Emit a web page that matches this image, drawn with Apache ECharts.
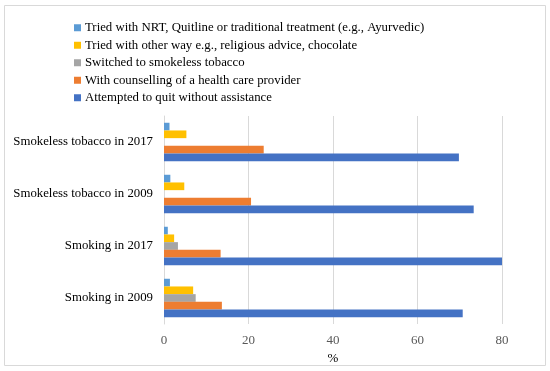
<!DOCTYPE html>
<html><head><meta charset="utf-8">
<script src="https://cdn.jsdelivr.net/npm/echarts@6/dist/echarts.min.js"></script>
<style>html,body{margin:0;padding:0;background:#fff}#c{width:550px;height:371px}</style>
</head><body><div id="c"></div>
<script>
const categories = ['Smoking in 2009', 'Smoking in 2017', 'Smokeless tobacco in 2009', 'Smokeless tobacco in 2017'];
const seriesNames = [
  'Tried with NRT, Quitline or traditional treatment (e.g., Ayurvedic)',
  'Tried with other way e.g., religious advice, chocolate',
  'Switched to smokeless tobacco',
  'With counselling of a health care provider',
  'Attempted to quit without assistance'
];
const nrt = [1.4, 0.9, 1.5, 1.3];
const otherWay = [6.9, 2.4, 4.8, 5.3];
const switchedSmokeless = [7.5, 3.3, 0, 0];
const counselling = [13.7, 13.4, 20.6, 23.6];
const withoutAssistance = [70.7, 80.0, 73.3, 69.8];
const xTicks = [0, 20, 40, 60, 80];
const colors = ['#5B9BD5', '#FFC000', '#A5A5A5', '#ED7D31', '#4472C4'];
const values = [nrt, otherWay, switchedSmokeless, counselling, withoutAssistance];

const font = '"Liberation Serif", "Times New Roman", serif';
const chart = echarts.init(document.getElementById('c'), null, {renderer: 'canvas'});
chart.setOption({
  animation: false,
  graphic: [{type: 'rect', shape: {x: 4.5, y: 5.5, width: 541, height: 360}, style: {fill: 'none', stroke: '#D9D9D9', lineWidth: 1}}],
  legend: {
    orient: 'vertical', left: 69, top: 16,
    itemWidth: 7, itemHeight: 7, itemGap: 4,
    icon: 'rect',
    data: seriesNames,
    textStyle: {fontFamily: font, fontSize: 12.8, color: '#000', lineHeight: 13.5, padding: [0, 0, 0, -1]}
  },
  grid: {left: 164, right: 48, top: 116, bottom: 47, containLabel: false},
  xAxis: {
    type: 'value', min: xTicks[0], max: xTicks[xTicks.length - 1], interval: 20,
    name: '%', nameLocation: 'middle', nameGap: 23,
    nameTextStyle: {fontFamily: font, fontSize: 13, color: '#000'},
    axisLabel: {fontFamily: font, fontSize: 13, color: '#595959', margin: 10},
    axisLine: {show: false}, axisTick: {show: false},
    splitLine: {lineStyle: {color: '#D9D9D9', width: 1}}
  },
  yAxis: {
    type: 'category', data: categories,
    axisLabel: {fontFamily: font, fontSize: 12.8, color: '#000', margin: 11},
    axisLine: {show: true, lineStyle: {color: '#D9D9D9'}}, axisTick: {show: false}
  },
  series: seriesNames.map((n, i) => ({
    name: n, type: 'bar', data: values[i],
    barGap: '0%', barCategoryGap: '26%',
    itemStyle: {color: colors[i]}
  }))
});
</script></body></html>
